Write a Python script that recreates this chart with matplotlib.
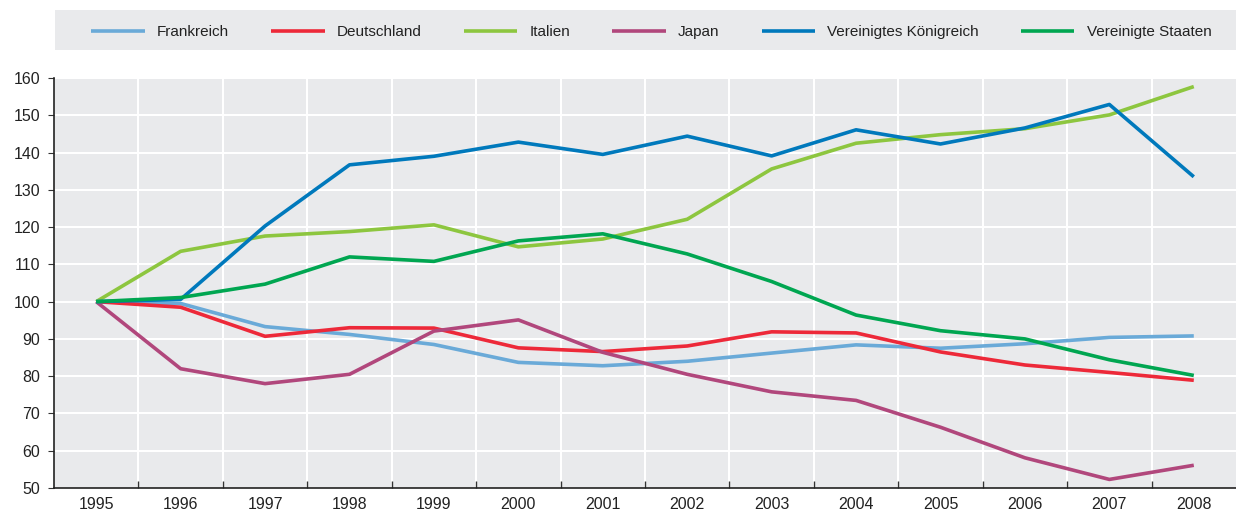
import numpy as np
import matplotlib.pyplot as plt
from matplotlib.patches import Rectangle

plt.rcParams['font.family'] = ['Liberation Sans Narrow', 'Liberation Sans', 'DejaVu Sans']

years = np.arange(1995, 2009)

frankreich = [100, 99.5, 93.3, 91.2, 88.5, 83.7, 82.8, 84.0, 86.2, 88.4, 87.5, 88.7, 90.4, 90.8]
deutschland = [100, 98.5, 90.7, 93.0, 92.9, 87.6, 86.6, 88.1, 91.9, 91.6, 86.5, 83.0, 81.0, 78.9]
italien = [100, 113.5, 117.6, 118.8, 120.6, 114.7, 116.8, 122.1, 135.6, 142.5, 144.8, 146.4, 150.1, 157.7]
japan = [100, 82.0, 78.0, 80.5, 92.1, 95.1, 86.4, 80.5, 75.8, 73.5, 66.3, 58.1, 52.3, 56.1]
uk = [100, 100.6, 120.3, 136.7, 139.0, 142.8, 139.5, 144.4, 139.1, 146.1, 142.3, 146.6, 152.9, 133.5]
usa = [100, 101.1, 104.7, 112.0, 110.8, 116.3, 118.2, 112.8, 105.4, 96.4, 92.2, 90.0, 84.4, 80.2]

series = [
    ("Frankreich", frankreich, "#6aaad8"),
    ("Deutschland", deutschland, "#ed2939"),
    ("Italien", italien, "#8dc63f"),
    ("Japan", japan, "#b1477c"),
    ("Vereinigtes Königreich", uk, "#0079bc"),
    ("Vereinigte Staaten", usa, "#00a651"),
]

fig = plt.figure(figsize=(12.36, 5.11), dpi=100)
ax = fig.add_axes([54 / 1236, 1 - 488 / 511, 1 - 54 / 1236, (488 - 78) / 511])
bg = "#e9eaec"
ax.set_facecolor(bg)

for name, vals, col in series:
    ax.plot(years, vals, color=col, linewidth=2.6, label=name, solid_capstyle='butt', zorder=3)

ax.set_xlim(1994.5, 2008.5)
ax.set_ylim(50, 160)
ax.set_yticks(np.arange(50, 161, 10))
ax.set_xticks(years)
ax.set_xticks(np.arange(1995.5, 2008.5, 1), minor=True)

ax.grid(False)
for y in np.arange(60, 161, 10):
    ax.axhline(y, color="white", linewidth=1.5, zorder=1)
for x in np.arange(1995.5, 2008.5, 1):
    ax.axvline(x, color="white", linewidth=1.5, zorder=1)

ax.tick_params(axis='x', which='major', length=0, labelsize=11.5, pad=6.5, colors='#222222')
ax.tick_params(axis='x', which='minor', length=5, direction='in', color='#333333', width=1)
ax.tick_params(axis='y', length=4, direction='out', labelsize=11.5, pad=6, colors='#222222', color='#333333')
for sp in ['top', 'right']:
    ax.spines[sp].set_visible(False)
for sp in ['left', 'bottom']:
    ax.spines[sp].set_color('#222222')
    ax.spines[sp].set_linewidth(1.2)

# legend band
fig.patches.append(Rectangle((55 / 1236, 1 - 50 / 511), 1 - 55 / 1236, 40 / 511,
                             transform=fig.transFigure, facecolor=bg, edgecolor='none', zorder=0))
handles, labels = ax.get_legend_handles_labels()
leg = fig.legend(handles, labels, ncol=6, loc='center', bbox_to_anchor=(0.527, 1 - 32 / 511),
                 frameon=False, fontsize=11, handlelength=3.5, handletextpad=0.8, columnspacing=2.75)
for t in leg.get_texts():
    t.set_color('#222222')

fig.savefig("out.png", dpi=100)
